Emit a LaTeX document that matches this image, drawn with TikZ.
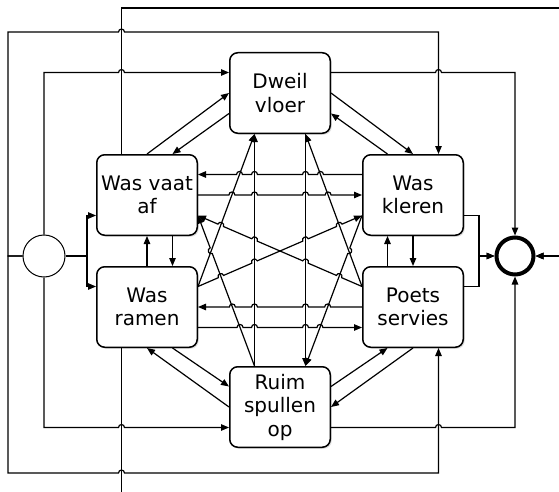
\documentclass[tikz,border=0pt]{standalone}
\usepackage{fontspec}
\setmainfont{DejaVu Sans}
\usetikzlibrary{arrows.meta,calc,shadows}

\newcommand\hop[4][bend left]{%
	\draw[->] (#2) \foreach \jx/\jy in {#4} { -- ($(\jx,\jy)!3pt!(#2)$) to[#1=90,looseness=1.7] ($(\jx,\jy)!3pt!(#3)$) } -- (#3);
}

\begin{document}
\begin{tikzpicture}[x=1pt,y=1pt,line width=1.2pt,>={Triangle[length=8pt,width=6.5pt]},
	task/.style={draw,line width=1.5pt,rounded corners=8pt,fill=white,minimum width=100.5pt,minimum height=80.5pt,inner sep=0pt,align=center,font=\fontsize{20}{23.5}\selectfont,drop shadow={shadow xshift=1.5pt,shadow yshift=-1.5pt,opacity=0.25}}]
		\path[use as bounding box] (0,0) rectangle (559,491);
		\clip (0,0) rectangle (559,491);
		\node[task] (dweil) at (280,398) {Dweil\\vloer};
		\node[task] (vaat) at (147,296) {Was vaat\\af};
		\node[task] (kleren) at (413,296) {Was\\kleren};
		\node[task] (ramen) at (147,184) {Was\\ramen};
		\node[task] (poets) at (413,184) {Poets\\servies};
		\node[task] (ruim) at (280,84) {Ruim\\spullen\\op};
		\node[draw,circle,line width=1pt,fill=white,minimum size=42pt,inner sep=0pt] (start) at (44,235) {};
		\node[draw,circle,line width=4pt,minimum size=37pt,inner sep=0pt] (stop) at (515,235) {};
		% start
		\draw[->] (start.west) -| (8,459) -- (118.5,459) arc[start angle=180,end angle=0,radius=3] -| ([xshift=25.5]kleren.north);
		\draw[->] (start.west) -| (8,18) -- (118.5,18) arc[start angle=180,end angle=0,radius=3] -| ([xshift=25.5]poets.south);
		\draw[->] (start.north) |- (118.5,418.5) arc[start angle=180,end angle=0,radius=3] -- ([yshift=20.5]dweil.west);
		\draw[->] (start.south) |- (118.5,63.5) arc[start angle=180,end angle=0,radius=3] -- ([yshift=-20.5]ruim.west);
		\draw[->] (start.east) -- (87,235) |- ([yshift=-20.5]vaat.west);
		\draw[->] (start.east) -- (87,235) |- ([yshift=20.5]ramen.west);
		% stop
		\draw[->] ([xshift=-25.5]vaat.north) -- (121.5,483) -- (575,483) |- (stop.east);
		\draw[->] ([xshift=-25.5]ramen.south) -- (121.5,-10) -- (575,-10) |- (stop.east);
		\draw[->] ([yshift=20.5]dweil.east) -- (435.5,418.5) arc[start angle=180,end angle=0,radius=3] -| (stop.north);
		\draw[->] ([yshift=-20.5]ruim.east) -- (435.5,63.5) arc[start angle=180,end angle=0,radius=3] -| (stop.south);
		\draw[->] ([yshift=-20.5]kleren.east) -| (479,235) -- (stop.west);
		\draw[->] ([yshift=20.5]poets.east) -| (479,235) -- (stop.west);
		% neighbours
		\draw[->] (vaat.north) -- (dweil.west);
		\draw[->] ([yshift=-20.5]dweil.west) -- ([xshift=25.5]vaat.north);
		\draw[->] (dweil.east) -- (kleren.north);
		\draw[->] ([xshift=-25.5]kleren.north) -- ([yshift=-20.5]dweil.east);
		\draw[->] (ramen.north) -- (vaat.south);
		\draw[->] ([xshift=25.5]vaat.south) -- ([xshift=25.5]ramen.north);
		\draw[->] ([xshift=-25.5]poets.north) -- ([xshift=-25.5]kleren.south);
		\draw[->] (kleren.south) -- (poets.north);
		\draw[->] ([xshift=25.5]ramen.south) -- ([yshift=20.5]ruim.west);
		\draw[->] (ruim.west) -- (ramen.south);
		\draw[->] ([yshift=20.5]ruim.east) -- ([xshift=-25.5]poets.south);
		\draw[->] (poets.south) -- (ruim.east);
		% across
		\draw[->] ([xshift=-25.5]ruim.north) -- ([xshift=-25.5]dweil.south);
		\draw[->] ([xshift=25.5]dweil.south) -- ([xshift=25.5]ruim.north);
		\draw[->] ([yshift=20.5]ramen.east) -- ([xshift=-25.5]dweil.south);
		\draw[->] ([yshift=20.5]poets.west) -- ([xshift=25.5]dweil.south);
		\hop{[xshift=-25.5]ruim.north}{[yshift=-20.5]vaat.east}{211.24/240.24}
		\hop{[yshift=-20.5]kleren.west}{[xshift=25.5]ruim.north}{348.76/240.24}
		\hop{[yshift=20.5]ramen.east}{[yshift=-20.5]kleren.west}{220.93/214.43, 254.5/228.96, 305.5/251.04, 339.33/265.7}
		\hop[bend right]{[yshift=20.5]poets.west}{[yshift=-20.5]vaat.east}{339.07/214.43, 305.5/228.96, 254.5/251.04, 220.67/265.7}
		\hop[bend right]{[yshift=20.5]kleren.west}{[yshift=20.5]vaat.east}{320.5/316.5, 305.5/316.5, 254.5/316.5, 239.5/316.5}
		\hop{vaat.east}{kleren.west}{231.9/296, 254.5/296, 305.5/296, 328.1/296}
		\hop[bend right]{poets.west}{ramen.east}{327.65/184, 305.5/184, 254.5/184, 232.35/184}
		\hop{[yshift=-20.5]ramen.east}{[yshift=-20.5]poets.west}{240.05/163.5, 254.5/163.5, 305.5/163.5, 319.95/163.5}
\end{tikzpicture}
\end{document}
